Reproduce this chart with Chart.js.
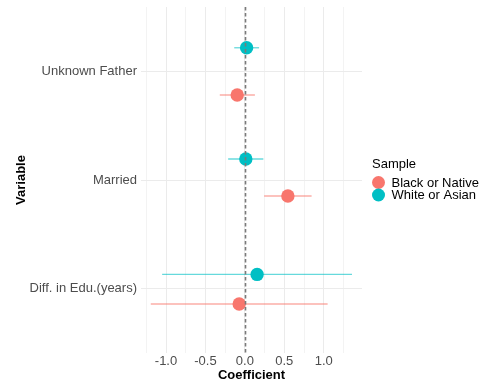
<!DOCTYPE html>
<html>
<head>
<meta charset="utf-8">
<script src="https://cdn.jsdelivr.net/npm/chart.js@4/dist/chart.umd.min.js"></script>
<style>
  html, body { margin: 0; padding: 0; background: #ffffff; }
  #wrap { width: 479px; height: 383px; }
</style>
</head>
<body>
<div id="wrap"><canvas id="c" width="479" height="383"></canvas></div>
<script>
// Variables on the vertical axis, bottom to top (rows 1, 2, 3)
const variables = ['Diff. in Edu.(years)', 'Married', 'Unknown Father'];
const sampleNames = ['Black or Native', 'White or Asian'];
const sampleColors = ['#F8766D', '#00BFC4'];

// Black or Native: estimate, lower and upper bounds, row position (jittered)
const blackEst = [-0.072, 0.545, -0.097];
const blackLow = [-1.193, 0.244, -0.318];
const blackHigh = [1.049, 0.846, 0.127];
const blackRow = [0.853, 1.852, 2.786];

// White or Asian: estimate, lower and upper bounds, row position (jittered)
const whiteEst = [0.155, 0.012, 0.022];
const whiteLow = [-1.049, -0.212, -0.135];
const whiteHigh = [1.358, 0.234, 0.180];
const whiteRow = [1.127, 2.194, 3.223];

const xTicks = [-1.25, -1.0, -0.75, -0.5, -0.25, 0, 0.25, 0.5, 0.75, 1.0, 1.25];

const FONT = "'Liberation Sans', Arial, sans-serif";

const series = [
  { est: blackEst, low: blackLow, high: blackHigh, row: blackRow },
  { est: whiteEst, low: whiteLow, high: whiteHigh, row: whiteRow }
];

function toPoints(s) {
  return s.est.map((v, i) => ({ x: v, y: s.row[i], lo: s.low[i], hi: s.high[i] }));
}

function hexA(hex, a) {
  const n = parseInt(hex.slice(1), 16);
  return `rgba(${(n >> 16) & 255},${(n >> 8) & 255},${n & 255},${a})`;
}

// Horizontal interval lines behind the points
const intervalPlugin = {
  id: 'intervals',
  beforeDatasetsDraw(chart) {
    const { ctx, scales: { x, y } } = chart;
    ctx.save();
    chart.data.datasets.forEach((ds, di) => {
      ctx.strokeStyle = hexA(sampleColors[di], 0.6);
      ctx.lineWidth = 1.3;
      ds.data.forEach(p => {
        const py = y.getPixelForValue(p.y);
        ctx.beginPath();
        ctx.moveTo(x.getPixelForValue(p.lo), py);
        ctx.lineTo(x.getPixelForValue(p.hi), py);
        ctx.stroke();
      });
    });
    ctx.restore();
  }
};

// Dashed reference line at zero, over the points
const zeroLinePlugin = {
  id: 'zeroLine',
  afterDatasetsDraw(chart) {
    const { ctx, chartArea, scales: { x } } = chart;
    const px = Math.round(x.getPixelForValue(0)) + 0.5;
    ctx.save();
    ctx.strokeStyle = '#7A7A7A';
    ctx.lineWidth = 1.6;
    ctx.setLineDash([3.5, 2.5]);
    ctx.beginPath();
    ctx.moveTo(px, chartArea.top);
    ctx.lineTo(px, chartArea.bottom);
    ctx.stroke();
    ctx.restore();
  }
};

// Legend on the right with a title
const sideLegendPlugin = {
  id: 'sideLegend',
  afterDraw(chart) {
    const { ctx } = chart;
    ctx.save();
    ctx.textBaseline = 'middle';
    ctx.textAlign = 'left';
    ctx.fillStyle = '#000000';
    ctx.font = `13px ${FONT}`;
    ctx.fillText('Sample', 372, 164);
    sampleNames.forEach((name, i) => {
      const cy = 182.5 + i * 12.5;
      ctx.beginPath();
      ctx.fillStyle = sampleColors[i];
      ctx.arc(378.5, cy, 6.5, 0, Math.PI * 2);
      ctx.fill();
      ctx.fillStyle = '#000000';
      ctx.fillText(name, 391.5, cy + 0.5);
    });
    ctx.restore();
  }
};

new Chart(document.getElementById('c'), {
  type: 'scatter',
  data: {
    datasets: series.map((s, i) => ({
      label: sampleNames[i],
      data: toPoints(s),
      backgroundColor: sampleColors[i],
      borderColor: sampleColors[i],
      borderWidth: 0,
      pointRadius: 6.7,
      pointHoverRadius: 6.7
    }))
  },
  options: {
    responsive: false,
    animation: false,
    events: [],
    layout: { padding: { left: 10, right: 117, top: 7, bottom: 0 } },
    plugins: { legend: { display: false }, tooltip: { enabled: false } },
    scales: {
      x: {
        type: 'linear',
        min: -1.317,
        max: 1.485,
        afterBuildTicks(scale) { scale.ticks = xTicks.map(v => ({ value: v })); },
        afterFit(scale) {
          scale.height = 30;
          scale.paddingLeft = 0;
          scale.paddingRight = 0;
        },
        border: { display: false },
        grid: {
          drawTicks: false,
          color: ctx => (Math.abs((ctx.tick.value * 2) % 1) < 1e-9 ? '#EBEBEB' : '#F3F3F3'),
          lineWidth: 1
        },
        ticks: {
          padding: 1,
          autoSkip: false,
          maxRotation: 0,
          color: '#4D4D4D',
          font: { family: FONT, size: 13 },
          callback: v => (Math.abs((v * 2) % 1) < 1e-9 ? v.toFixed(1) : '')
        },
        title: {
          display: true,
          text: 'Coefficient',
          color: '#000000',
          font: { family: FONT, size: 13, weight: 'bold' },
          padding: { top: 0, bottom: 0 }
        }
      },
      y: {
        type: 'linear',
        min: 0.4,
        max: 3.6,
        afterBuildTicks(scale) { scale.ticks = [1, 2, 3].map(v => ({ value: v })); },
        afterFit(scale) {
          scale.width = 131;
          scale.paddingTop = 0;
          scale.paddingBottom = 0;
        },
        border: { display: false },
        grid: { drawTicks: false, color: '#EBEBEB', lineWidth: 1 },
        ticks: {
          padding: 4,
          color: '#4D4D4D',
          font: { family: FONT, size: 13 },
          callback: v => variables[Math.round(v) - 1]
        },
        title: {
          display: true,
          text: 'Variable',
          color: '#000000',
          font: { family: FONT, size: 13, weight: 'bold' },
          padding: { top: 4, bottom: 0 }
        }
      }
    }
  },
  plugins: [intervalPlugin, zeroLinePlugin, sideLegendPlugin]
});
</script>
</body>
</html>
